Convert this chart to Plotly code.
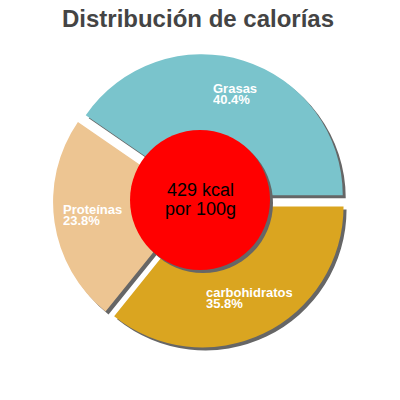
import math
import plotly.graph_objects as go

# --- Data ---
TITLE = "Distribución de calorías"
LABELS = ["Grasas", "Proteínas", "carbohidratos"]
PERCENTS = [40.4, 23.8, 35.8]
COLORS = ["#7AC4CC", "#EDC592", "#DAA520"]
CENTER_LINES = ["429 kcal", "por 100g"]

W, H = 400, 400
PAGE_OFF = 8          # browser body margin, shift everything back by this
PULL = 0.043
SHADOW = "#666666"
FONT = "Liberation Sans, Arial, sans-serif"
LABEL_SIZE = 13

# rough Arial Bold widths (em), used to left-align the slice labels
CHAR_W = {"i": 0.278, "l": 0.278, "í": 0.278, "t": 0.333, "r": 0.389, ".": 0.278,
          "%": 0.889, "G": 0.778, "P": 0.667, "b": 0.611, "o": 0.611, "h": 0.611,
          "d": 0.611, "n": 0.611}


def text_w(s):
    return sum(CHAR_W.get(ch, 0.556) for ch in s) * LABEL_SIZE


def px_x(p):
    return (p - PAGE_OFF) / W


def px_y(p):
    # pixel from top -> paper fraction from bottom
    return 1 - (p - PAGE_OFF) / H


# pie geometry (target pixels)
cx, cy, half = 200, 201, 147
r = half / (1 + PULL)
dom_x = [px_x(cx - half), px_x(cx + half)]
dom_y = [px_y(cy + half), px_y(cy - half)]
off = 3  # shadow offset in px

# first slice (Grasas) starts at 3 o'clock and runs counter-clockwise
rot = 90 - PERCENTS[0] / sum(PERCENTS) * 360

common = dict(
    labels=LABELS,
    values=PERCENTS,
    sort=False,
    direction="counterclockwise",
    rotation=rot,
    pull=[PULL] * len(LABELS),
    hole=0.35,
    showlegend=False,
    textinfo="none",
)

fig = go.Figure()

# shadow pie, drawn first so it sits behind
fig.add_trace(go.Pie(
    **common,
    marker=dict(colors=[SHADOW] * len(LABELS), line=dict(width=0)),
    hoverinfo="skip",
    domain=dict(x=[dom_x[0] + off / W, dom_x[1] + off / W],
                y=[dom_y[0] - off / H, dom_y[1] - off / H]),
))

fig.add_trace(go.Pie(
    **common,
    marker=dict(colors=COLORS, line=dict(width=0)),
    domain=dict(x=dom_x, y=dom_y),
))

# slice labels: two left-aligned white lines in the middle of each ring segment
total = sum(PERCENTS)
start = 0.0
for lab, pct in zip(LABELS, PERCENTS):
    mid = math.radians(start + pct / total * 180)
    start += pct / total * 360
    dist = 104 + PULL * r
    tx = cx + dist * math.cos(mid)
    ty = cy - 2 - dist * math.sin(mid)
    line2 = f"{pct:.1f}%"
    left = tx - max(text_w(lab), text_w(line2)) / 2
    for txt, dy in ((lab, -5.5), (line2, 5.5)):
        fig.add_annotation(
            text=txt, xref="paper", yref="paper", x=px_x(left), y=px_y(ty + dy),
            xanchor="left", yanchor="middle", showarrow=False, height=11,
            font=dict(color="white", size=LABEL_SIZE, family=FONT, weight="bold"),
        )

# red centre disc with its shadow
r_px = 70
fig.add_shape(type="circle", xref="paper", yref="paper", layer="above",
              x0=px_x(200 - r_px + off), x1=px_x(200 + r_px + off),
              y0=px_y(200 + r_px + off), y1=px_y(200 - r_px + off),
              fillcolor=SHADOW, line=dict(width=0))
fig.add_shape(type="circle", xref="paper", yref="paper", layer="above",
              x0=px_x(200 - r_px), x1=px_x(200 + r_px),
              y0=px_y(200 + r_px), y1=px_y(200 - r_px),
              fillcolor="#FF0000", line=dict(width=0))

for txt, yy in zip(CENTER_LINES, (190, 209)):
    fig.add_annotation(
        text=txt, xref="paper", yref="paper", x=px_x(200), y=px_y(yy),
        xanchor="center", yanchor="middle", showarrow=False,
        font=dict(size=18, color="black", family=FONT),
    )

fig.update_layout(
    title=dict(text="<b>" + TITLE + "</b>", x=px_x(198), xanchor="center",
               y=px_y(18.5), yanchor="middle", yref="container",
               font=dict(size=24, color="#444444", family=FONT)),
    width=W, height=H,
    margin=dict(l=0, r=0, t=0, b=0),
    paper_bgcolor="white",
    plot_bgcolor="white",
)

fig.write_html("out.html")
